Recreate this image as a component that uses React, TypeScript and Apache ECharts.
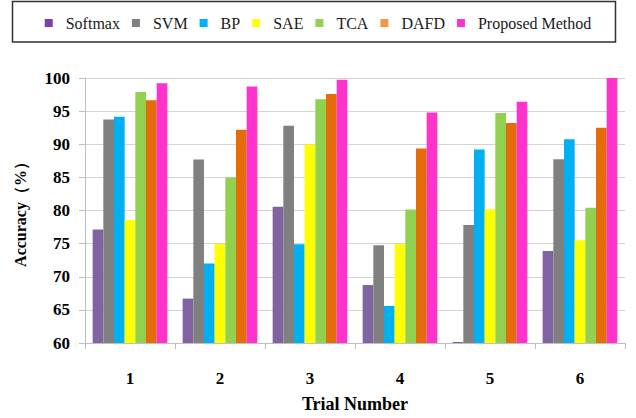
import React, { useEffect, useRef } from "react";
import * as echarts from "echarts";

const categories = ["1", "2", "3", "4", "5", "6"];
const seriesNames = ["Softmax", "SVM", "BP", "SAE", "TCA", "DAFD", "Proposed Method"];
const softmax = [77.15, 66.7, 80.55, 68.75, 60.15, 73.9];
const svm = [93.75, 87.7, 92.8, 74.75, 77.8, 87.75];
const bp = [94.15, 72.0, 74.9, 65.6, 89.2, 90.75];
const sae = [78.55, 74.95, 89.95, 74.95, 80.2, 75.5];
const tca = [97.9, 85.0, 96.8, 80.15, 94.7, 80.4];
const dafd = [96.65, 92.2, 97.6, 89.35, 93.2, 92.5];
const proposed = [99.2, 98.7, 99.75, 94.8, 96.4, 100];
const barColors = ["#8064A2", "#808080", "#00B0F0", "#FFFF00", "#92D050", "#E46C0A", "#FF33CC"];
const legendColors = ["#7F3FA8", "#808080", "#00B0F0", "#FFFF00", "#92D050", "#F79646", "#FF33CC"];

const allData = [softmax, svm, bp, sae, tca, dafd, proposed];

export default function App() {
  const ref = useRef<HTMLDivElement>(null);
  useEffect(() => {
    if (!ref.current) return;
    const chart = echarts.init(ref.current, null, { renderer: "svg" });
    const font = "Liberation Serif, DejaVu Serif, serif";
    chart.setOption({
      animation: false,
      backgroundColor: "#ffffff",
      textStyle: { fontFamily: font },
      graphic: [
        {
          type: "rect",
          shape: { x: 12.5, y: 1.5, width: 603, height: 40.5 },
          style: { fill: "none", stroke: "#303030", lineWidth: 1.5 },
          z: 10,
        },
      ],
      legend: {
        top: 10,
        left: "center",
        itemWidth: 8,
        itemHeight: 8,
        itemGap: 12,
        icon: "rect",
        textStyle: { fontFamily: font, fontSize: 16, color: "#1a1a1a", padding: [0, 0, 0, 8] },
        data: seriesNames.map((n, i) => ({ name: n, itemStyle: { color: legendColors[i] } })),
      },
      grid: { left: 85, right: 11, top: 78, height: 267 },
      xAxis: {
        type: "category",
        data: categories,
        name: "Trial Number",
        nameLocation: "middle",
        nameGap: 52,
        nameTextStyle: { fontFamily: font, fontSize: 18, fontWeight: "bold", color: "#000", verticalAlign: "top" },
        axisLine: { lineStyle: { color: "#BFBFBF", width: 1 } },
        axisTick: { show: true, length: 6, lineStyle: { color: "#BFBFBF" } },
        axisLabel: { margin: 27, fontFamily: font, fontSize: 17, fontWeight: "bold", color: "#000" },
      },
      yAxis: {
        type: "value",
        min: 60,
        max: 100,
        interval: 5,
        name: "Accuracy（%）",
        nameLocation: "middle",
        nameGap: 57,
        nameRotate: 90,
        nameTextStyle: { fontFamily: font, fontSize: 16, fontWeight: "bold", color: "#000" },
        axisLine: { show: true, lineStyle: { color: "#BFBFBF", width: 1 } },
        axisTick: { show: true, length: 6, lineStyle: { color: "#BFBFBF" } },
        axisLabel: { margin: 15, fontFamily: font, fontSize: 17, fontWeight: "bold", color: "#000" },
        splitLine: { show: true, lineStyle: { color: "#D4D4D4", width: 1 } },
      },
      series: seriesNames.map((n, i) => ({
        name: n,
        type: "bar",
        data: allData[i],
        barGap: "0%",
        barCategoryGap: "17%",
        itemStyle: { color: barColors[i] },
      })),
    });
    return () => chart.dispose();
  }, []);
  return (
    <div
      ref={ref}
      style={{ position: "fixed", left: 0, top: 0, width: 636, height: 418 }}
    />
  );
}
